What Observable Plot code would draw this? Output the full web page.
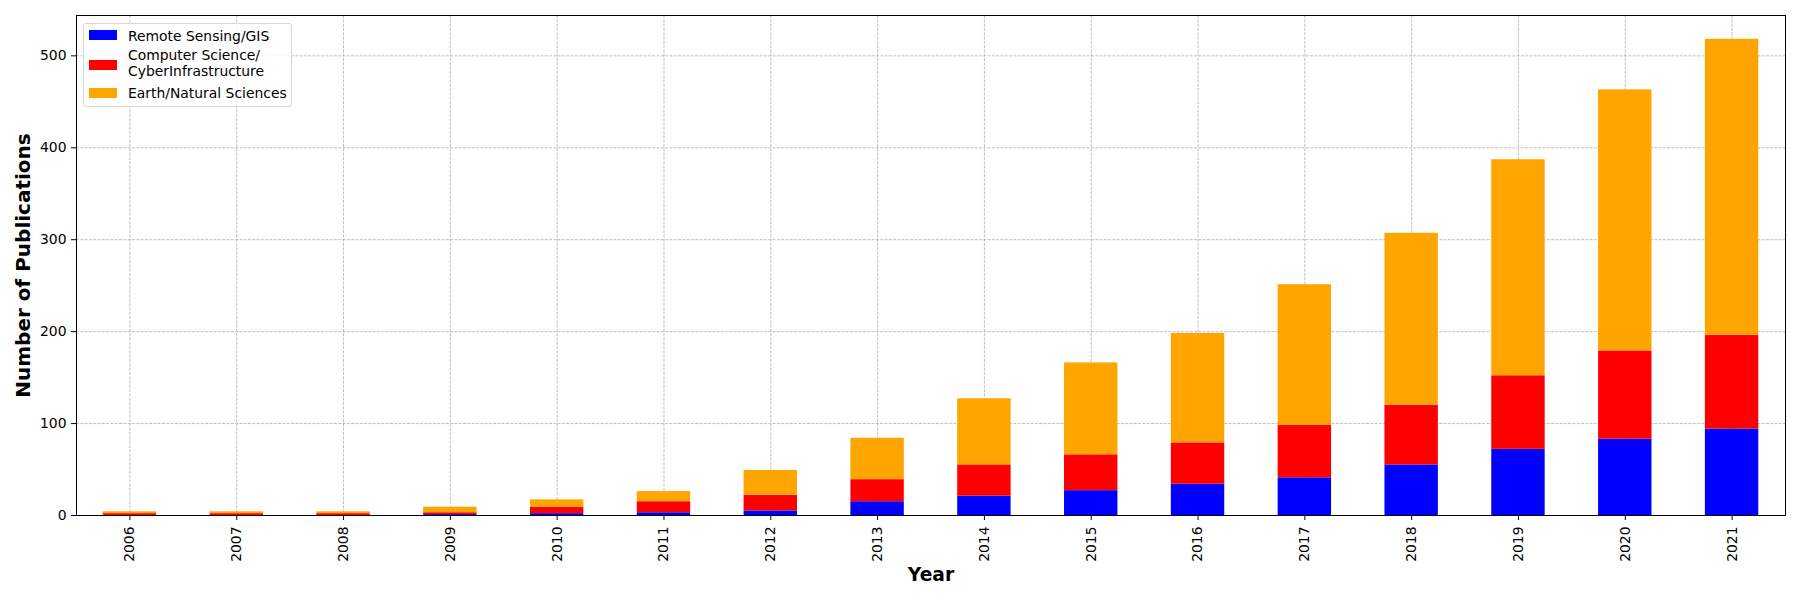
<!DOCTYPE html>
<html>
<head>
<meta charset="utf-8">
<script src="https://cdn.jsdelivr.net/npm/d3@7"></script>
<script src="https://cdn.jsdelivr.net/npm/@observablehq/plot@0.6"></script>
<style>
  body { margin: 0; background: white; font-family: "DejaVu Sans", sans-serif; }
  #wrap { position: relative; width: 1800px; height: 600px; }
  #legend { position: absolute; left: 83px; top: 23px; width: 207px; height: 82px;
    border: 1px solid #d6d6d6; border-radius: 3px; background: rgba(255,255,255,0.8); font-size: 13.9px; color: #000; }
  .patch { position: absolute; left: 5px; width: 28px; height: 10px; }
  .lab { position: absolute; left: 44px; line-height: 16.7px; white-space: nowrap; transform: translateY(-50%); }
</style>
</head>
<body>
<div id="wrap"></div>
<script>
const years = ["2006","2007","2008","2009","2010","2011","2012","2013","2014","2015","2016","2017","2018","2019","2020","2021"];
const remoteSensing = [0, 0, 0, 1, 2, 3, 5, 15, 21, 27, 34, 41, 55, 72, 83, 94];
const computerScience = [2, 2, 2, 2, 7, 12, 17, 24, 34, 39, 45, 57, 65, 80, 96, 102];
const earthSciences = [2, 2, 2, 6, 8, 11, 27, 45, 72, 100, 119, 153, 187, 235, 284, 322];
const seriesNames = ["Remote Sensing/GIS", "Computer Science/\nCyberInfrastructure", "Earth/Natural Sciences"];
const seriesColors = ["blue", "red", "orange"];
const yTicks = [0, 100, 200, 300, 400, 500];

const seriesValues = [remoteSensing, computerScience, earthSciences];
const data = years.flatMap((yr, i) => seriesNames.map((s, k) => ({year: yr, series: s, value: seriesValues[k][i]})));
const maxTotal = d3.max(years.map((_, i) => remoteSensing[i] + computerScience[i] + earthSciences[i]));

const chart = Plot.plot({
  width: 1800, height: 600,
  marginLeft: 76, marginRight: 15, marginTop: 15, marginBottom: 85,
  style: {fontFamily: "DejaVu Sans, sans-serif", fontSize: "13.9px", color: "black", background: "white"},
  x: {domain: years, paddingInner: 0.5, paddingOuter: 0.25, round: false, label: null},
  y: {domain: [0, maxTotal * 1.05], label: null},
  color: {domain: seriesNames, range: seriesColors},
  marks: [
    Plot.gridY(yTicks, {stroke: "#b0b0b0", strokeOpacity: 1, strokeWidth: 0.8, strokeDasharray: "3,1.3"}),
    Plot.gridX(years, {stroke: "#b0b0b0", strokeOpacity: 1, strokeWidth: 0.8, strokeDasharray: "3,1.3"}),
    Plot.barY(data, {x: "year", y: "value", fill: "series", order: seriesNames}),
    Plot.axisY(yTicks, {tickSize: 5, tickPadding: 5, fontSize: 13.9, label: null, stroke: "black"}),
    Plot.axisX(years, {tickSize: 5, tickPadding: 6, tickRotate: -90, fontSize: 13.9, label: null, stroke: "black"}),
    Plot.frame({stroke: "black", strokeWidth: 1}),
    Plot.text(["Number of Publications"], {frameAnchor: "left", dx: -53, rotate: -90, textAnchor: "middle", lineAnchor: "middle", fontSize: 20, fontWeight: "bold", fill: "black"}),
    Plot.text(["Year"], {frameAnchor: "bottom", dy: 60, textAnchor: "middle", lineAnchor: "middle", fontSize: 18.7, fontWeight: "bold", fill: "black"})
  ]
});
const wrap = document.getElementById("wrap");
wrap.appendChild(chart);

// legend overlay
const legend = document.createElement("div");
legend.id = "legend";
const patchTops = [6, 36, 64];
const labelCenters = [12, 39.7, 68.7];
seriesNames.forEach((s, k) => {
  const p = document.createElement("div");
  p.className = "patch";
  p.style.top = patchTops[k] + "px";
  p.style.background = seriesColors[k];
  legend.appendChild(p);
  const t = document.createElement("div");
  t.className = "lab";
  t.style.top = labelCenters[k] + "px";
  t.innerHTML = s.split("\n").join("<br>");
  legend.appendChild(t);
});
wrap.appendChild(legend);
</script>
</body>
</html>
